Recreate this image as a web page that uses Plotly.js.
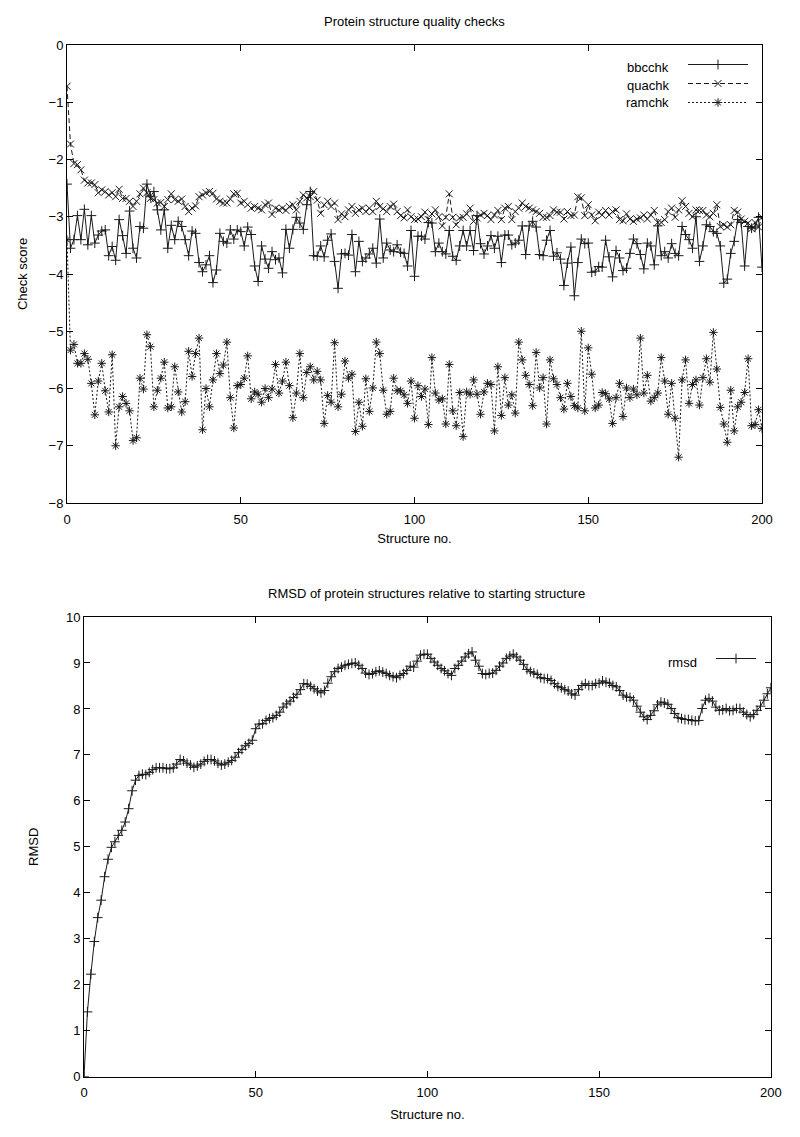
<!DOCTYPE html>
<html><head><meta charset="utf-8">
<script src="https://cdn.plot.ly/plotly-3.0.1.min.js"></script>
<style>html,body{margin:0;padding:0;background:#fff}#chart{width:800px;height:1137px}</style>
</head><body><div id="chart"></div>
<script>
// Structure numbers (x categories)
const structureNo = Array.from({length: 201}, (_, k) => k);

const bbcchk = [-2.43,
-3.55,-3.40,-2.98,-3.40,-2.87,-3.49,-2.98,-3.46,-3.32,-3.25,-3.23,-3.68,-3.52,-3.76,-3.05,-3.33,-3.64,-2.90,-3.55,-3.72,
-3.17,-3.20,-2.43,-2.65,-2.56,-2.88,-3.23,-2.88,-3.55,-3.15,-3.40,-3.08,-3.17,-3.40,-3.68,-3.25,-3.29,-3.80,-3.96,-3.84,
-3.68,-4.15,-3.93,-3.29,-3.43,-3.46,-3.23,-3.39,-3.23,
-3.26,-3.51,-3.18,-3.31,-3.86,-4.13,-3.51,-3.74,-3.90,-3.61,-3.75,-3.72,-3.98,-3.22,-3.55,-3.22,-3.01,-3.11,-3.22,-2.79,
-2.56,-3.68,-3.69,-3.51,-3.70,-3.41,-3.30,-3.78,-4.25,-3.65,-3.64,-3.67,-3.31,-3.96,-3.43,-3.78,-3.72,-3.65,-3.55,-3.81,
-3.04,-3.72,-3.46,-3.58,-3.61,-3.49,-3.62,-3.64,-3.86,-3.24,-4.04,
-3.34,-3.34,-3.39,-3.10,-3.11,-3.61,-3.46,-3.61,-3.65,-3.24,-3.69,-3.76,-3.51,-3.24,-3.51,-3.24,-3.59,-2.98,-3.47,-3.65,
-3.51,-3.33,-3.55,-3.34,-3.80,-3.32,-3.32,-3.49,-3.46,-3.41,-3.16,-3.66,-3.16,-3.08,-3.18,-3.66,-3.68,-3.41,-3.24,-3.69,
-3.63,-3.74,-4.20,-3.81,-3.53,-4.38,-3.80,-3.39,-3.47,-3.46,
-3.97,-3.95,-3.87,-3.88,-3.41,-3.70,-4.05,-3.59,-3.72,-3.94,-3.90,-3.64,-3.39,-3.47,-3.66,-3.91,-3.46,-3.51,-3.84,-3.16,
-3.68,-3.61,-3.72,-3.47,-3.64,-3.68,-3.17,-3.31,-3.40,-3.55,-3.00,-3.78,-3.51,-3.14,-3.17,-3.26,-3.29,-3.51,-4.16,-4.09,
-3.64,-3.43,-3.05,-3.10,-3.86,-3.17,-3.20,-3.18,-3.01,-3.88];

const quachk = [-0.72,
-1.73,-2.07,-2.09,-2.18,-2.36,-2.41,-2.41,-2.44,-2.58,-2.53,-2.56,-2.62,-2.58,-2.65,-2.52,-2.68,-2.68,-2.73,-2.82,-2.73,
-2.60,-2.50,-2.58,-2.68,-2.70,-2.76,-2.75,-2.82,-2.70,-2.60,-2.70,-2.73,-2.69,-2.82,-2.91,-2.85,-2.81,-2.65,-2.62,-2.58,
-2.56,-2.59,-2.69,-2.73,-2.76,-2.76,-2.69,-2.60,
-2.59,-2.76,-2.73,-2.79,-2.85,-2.82,-2.85,-2.88,-2.79,-2.76,-2.96,-2.85,-2.88,-2.85,-2.89,-2.82,-2.79,-2.88,-2.73,-2.62,
-2.67,-2.65,-2.56,-2.71,-2.94,-2.79,-2.73,-2.82,-2.76,-3.05,-2.95,-3.00,-2.88,-2.82,-2.94,-2.88,-2.85,-2.91,-2.85,-2.91,
-2.73,-2.82,-2.86,-2.91,-2.82,-2.78,-2.91,-2.98,-3.02,-2.88,-3.00,
-3.05,-3.04,-3.00,-2.92,-3.05,-2.95,-2.88,-3.00,-3.16,-3.01,-2.60,-3.01,-3.14,-3.02,-3.01,-2.95,-2.85,-3.08,-3.02,-2.97,
-2.94,-2.98,-3.05,-2.97,-2.89,-3.05,-2.85,-2.82,-3.05,-2.91,-2.85,-2.76,-2.82,-2.85,-2.88,-2.91,-2.94,-3.01,-3.01,-2.98,
-2.88,-2.92,-2.92,-3.04,-2.91,-2.98,-2.97,-2.65,-2.67,-2.98,-2.79,
-2.97,-3.07,-2.92,-2.97,-2.89,-2.97,-2.91,-2.88,-3.05,-3.07,-2.95,-3.04,-3.08,-3.04,-3.02,-2.97,-3.04,-2.97,-2.89,-3.10,
-3.10,-3.05,-2.91,-2.85,-3.01,-2.88,-2.72,-2.82,-2.94,-3.00,-2.88,-2.89,-2.89,-2.97,-3.00,-2.94,-2.79,-3.17,-3.14,-3.18,
-3.14,-2.89,-2.92,-3.04,-3.08,-3.11,-3.21,-3.10,-3.18,-3.01];

const ramchk = [-3.40,
-5.33,-5.23,-5.56,-5.56,-5.39,-5.49,-5.91,-6.46,-5.87,-5.56,-6.04,-6.41,-5.41,-7.00,-6.32,-6.14,-6.26,-6.39,-6.91,-6.86,
-5.82,-6.01,-5.06,-5.27,-6.32,-6.03,-5.82,-5.54,-6.34,-6.32,-5.62,-6.06,-6.41,-6.23,-5.35,-5.79,-5.39,-5.12,-6.72,-6.00,
-6.32,-5.85,-5.39,-5.74,-5.59,-5.19,-6.16,-6.69,-5.95,
-5.93,-5.82,-5.43,-6.18,-6.06,-6.10,-6.24,-6.00,-6.16,-6.01,-5.58,-6.08,-5.87,-5.54,-5.95,-6.51,-6.08,-5.39,-6.16,-5.72,
-5.62,-5.85,-5.70,-5.85,-6.61,-6.12,-6.24,-5.20,-6.32,-6.10,-5.52,-5.82,-5.75,-6.75,-6.24,-6.66,-5.83,-6.40,-5.99,-5.19,
-5.39,-6.03,-6.45,-6.40,-5.82,-6.04,-6.04,-6.11,-6.26,-5.87,-6.52,
-5.95,-6.14,-6.01,-6.63,-5.46,-6.08,-6.20,-6.18,-6.62,-5.58,-6.39,-6.65,-6.07,-6.84,-6.06,-6.10,-5.85,-6.10,-6.45,-6.06,
-5.91,-5.93,-6.74,-5.62,-6.47,-5.81,-6.29,-6.11,-6.43,-5.19,-5.50,-5.77,-5.93,-6.30,-5.37,-5.99,-5.81,-6.62,-5.50,-5.83,
-5.93,-6.16,-6.36,-5.91,-6.14,-6.30,-6.34,-5.00,-6.39,-5.29,
-5.75,-6.34,-6.29,-6.07,-6.09,-6.18,-6.61,-6.16,-5.91,-6.49,-5.99,-6.16,-6.01,-6.11,-5.12,-6.08,-5.77,-6.22,-6.16,-6.08,
-5.46,-5.87,-6.45,-5.91,-6.52,-7.20,-5.85,-5.50,-6.26,-5.93,-5.85,-6.29,-5.81,-5.48,-5.89,-5.02,-5.66,-6.33,-6.62,-6.94,
-6.03,-6.74,-6.32,-6.24,-6.07,-5.48,-6.65,-6.63,-6.37,-6.70];

const rmsd = [0.00,1.41,2.23,2.94,3.46,3.84,4.35,4.73,4.99,5.11,5.25,5.36,5.54,5.83,6.22,6.45,
6.55,6.58,6.57,6.62,6.68,6.72,6.72,6.72,6.70,6.70,6.72,6.80,6.90,6.87,6.82,6.78,6.73,6.76,6.80,6.86,
6.90,6.90,6.87,6.82,6.78,6.80,6.84,6.88,6.95,7.05,7.12,7.20,7.25,
7.32,7.57,7.67,7.68,7.75,7.79,7.81,7.86,7.93,8.04,8.11,8.17,8.25,8.32,8.42,8.55,8.54,8.49,8.44,8.39,
8.35,8.40,8.56,8.70,8.81,8.88,8.91,8.95,8.97,8.99,9.00,8.95,8.88,8.78,8.75,8.77,8.81,8.83,8.80,8.77,
8.73,8.70,8.68,8.73,8.77,8.84,8.93,8.91,9.04,9.17,9.19,9.19,
9.10,9.02,8.95,8.88,8.83,8.77,8.73,8.88,8.95,9.04,9.13,9.20,9.24,9.06,8.93,8.77,8.75,8.77,8.78,8.84,
8.93,9.00,9.10,9.15,9.19,9.13,9.06,8.97,8.86,8.81,8.78,8.75,8.68,8.66,8.66,8.62,8.55,8.49,8.46,8.42,
8.39,8.33,8.30,8.42,8.51,8.55,8.51,8.51,8.55,8.56,
8.61,8.58,8.56,8.51,8.48,8.40,8.30,8.26,8.25,8.19,8.06,7.93,7.83,7.77,7.86,7.96,8.09,8.15,8.13,8.10,
8.01,7.90,7.81,7.79,7.77,7.77,7.75,7.74,7.75,8.01,8.19,8.23,8.17,8.04,7.97,7.98,8.01,7.96,7.97,8.01,
8.01,7.93,7.88,7.83,7.88,7.97,8.06,8.19,8.33,8.46];

const xTicks = [0, 50, 100, 150, 200];
const topYTicks = [-8, -7, -6, -5, -4, -3, -2, -1, 0];
const botYTicks = [0, 1, 2, 3, 4, 5, 6, 7, 8, 9, 10];

const W = 800, H = 1137;
const FONT = 'Liberation Sans, Arial, Helvetica, sans-serif';
const LC = '#1a1a1a';
const px = v => v / W;
const py = v => 1 - v / H;

function tr(y, name, dash, symbol, xa, ya, leg) {
  return {
    x: structureNo, y: y, name: name, type: 'scatter', mode: 'lines+markers',
    xaxis: xa, yaxis: ya, legend: leg,
    line: {color: LC, width: 1, dash: dash},
    marker: {symbol: symbol, size: 7, color: LC, line: {color: LC, width: 1}}
  };
}

const data = [
  tr(bbcchk, 'bbcchk', 'solid', 'cross-thin-open', 'x', 'y', 'legend'),
  tr(quachk, 'quachk', '5px,3px', 'x-thin-open', 'x', 'y', 'legend'),
  tr(ramchk, 'ramchk', '2px,2px', 'asterisk-open', 'x', 'y', 'legend'),
  tr(rmsd, 'rmsd', 'solid', 'cross-thin-open', 'x2', 'y2', 'legend2')
];

const axBase = {
  showline: true, mirror: 'ticks', linecolor: '#000', linewidth: 1,
  ticks: 'inside', ticklen: 6, tickcolor: '#000', showgrid: false, zeroline: false,
  tickfont: {family: FONT, size: 13, color: '#000'}, fixedrange: true
};

const layout = {
  width: W, height: H,
  margin: {l: 0, r: 0, t: 0, b: 0},
  paper_bgcolor: '#fff', plot_bgcolor: '#fff',
  font: {family: FONT, size: 13, color: '#000'},
  showlegend: true,
  xaxis: Object.assign({}, axBase, {domain: [px(67), px(762)], range: [0, 200], tickvals: xTicks, anchor: 'y',
    ticklabelstandoff: 4,
    title: {text: 'Structure no.', font: {family: FONT, size: 13}, standoff: 8}}),
  yaxis: Object.assign({}, axBase, {domain: [py(503), py(45)], range: [-8, 0], tickvals: topYTicks, anchor: 'x',
    title: {text: 'Check score', font: {family: FONT, size: 13}, standoff: 18}}),
  xaxis2: Object.assign({}, axBase, {domain: [px(84), px(770.8)], range: [0, 200], tickvals: xTicks, anchor: 'y2',
    ticklabelstandoff: 4,
    title: {text: 'Structure no.', font: {family: FONT, size: 13}, standoff: 10}}),
  yaxis2: Object.assign({}, axBase, {domain: [py(1076.7), py(617)], range: [0, 10], tickvals: botYTicks, anchor: 'x2',
    title: {text: 'RMSD', font: {family: FONT, size: 13}, standoff: 24}}),
  legend: {x: px(683), y: py(50), xanchor: 'left', yanchor: 'top', bgcolor: 'rgba(0,0,0,0)',
    font: {family: FONT, size: 12, color: 'rgba(0,0,0,0)'}, itemwidth: 60, tracegroupgap: 0, borderwidth: 0},
  legend2: {x: px(711), y: py(644), xanchor: 'left', yanchor: 'top', bgcolor: 'rgba(0,0,0,0)',
    font: {family: FONT, size: 12, color: 'rgba(0,0,0,0)'}, itemwidth: 40, borderwidth: 0},
  annotations: [
    {text: 'Protein structure quality checks', xref: 'paper', yref: 'paper', x: px(414.5), y: py(21),
      showarrow: false, xanchor: 'center', yanchor: 'middle', font: {family: FONT, size: 13}},
    {text: 'RMSD of protein structures relative to starting structure', xref: 'paper', yref: 'paper', x: px(427), y: py(593),
      showarrow: false, xanchor: 'center', yanchor: 'middle', font: {family: FONT, size: 13}},
    {text: 'bbcchk', xref: 'paper', yref: 'paper', x: px(671), y: py(68), showarrow: false, xanchor: 'right', yanchor: 'middle', font: {family: FONT, size: 13}},
    {text: 'quachk', xref: 'paper', yref: 'paper', x: px(671), y: py(85), showarrow: false, xanchor: 'right', yanchor: 'middle', font: {family: FONT, size: 13}},
    {text: 'ramchk', xref: 'paper', yref: 'paper', x: px(671), y: py(102), showarrow: false, xanchor: 'right', yanchor: 'middle', font: {family: FONT, size: 13}},
    {text: 'rmsd', xref: 'paper', yref: 'paper', x: px(699), y: py(662), showarrow: false, xanchor: 'right', yanchor: 'middle', font: {family: FONT, size: 13}}
  ]
};

Plotly.newPlot('chart', data, layout, {displayModeBar: false, staticPlot: true});
</script>
</body></html>
